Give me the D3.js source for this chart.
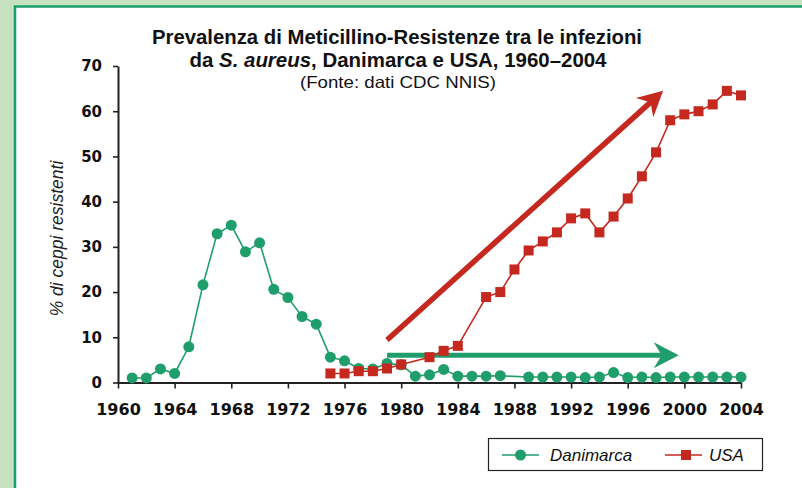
<!DOCTYPE html>
<html>
<head>
<meta charset="utf-8">
<script src="https://cdn.jsdelivr.net/npm/d3@7"></script>
<style>
  body { margin: 0; background: #c5e1c0; }
  svg { display: block; }
</style>
</head>
<body>
<script>
// data
var danYears = [1961, 1962, 1963, 1964, 1965, 1966, 1967, 1968, 1969, 1970,
                1971, 1972, 1973, 1974, 1975, 1976, 1977, 1978, 1979, 1980,
                1981, 1982, 1983, 1984, 1985, 1986, 1987,
                1989, 1990, 1991, 1992, 1993, 1994, 1995, 1996, 1997, 1998,
                1999, 2000, 2001, 2002, 2003, 2004];
var danValues = [1.0, 1.0, 3.0, 2.0, 7.9, 21.6, 32.9, 34.8, 28.9, 30.9,
                 20.6, 18.8, 14.6, 12.9, 5.6, 4.8, 3.1, 3.0, 4.2, 3.9,
                 1.4, 1.7, 2.9, 1.4, 1.4, 1.4, 1.5,
                 1.2, 1.2, 1.2, 1.2, 1.1, 1.2, 2.2, 1.1, 1.2, 1.1,
                 1.2, 1.2, 1.2, 1.2, 1.2, 1.2];
var usaYears = [1975, 1976, 1977, 1978, 1979, 1980, 1982, 1983, 1984,
                1986, 1987, 1988, 1989, 1990, 1991, 1992, 1993, 1994, 1995,
                1996, 1997, 1998, 1999, 2000, 2001, 2002, 2003, 2004];
var usaValues = [2.0, 2.0, 2.5, 2.5, 3.1, 4.0, 5.6, 7.0, 8.1,
                 18.9, 20.0, 25.0, 29.2, 31.2, 33.2, 36.3, 37.4, 33.2, 36.7,
                 40.7, 45.6, 50.9, 58.0, 59.3, 60.0, 61.5, 64.5, 63.5];
var xTicks = [1960, 1964, 1968, 1972, 1976, 1980, 1984, 1988, 1992, 1996, 2000, 2004];
var yTicks = [0, 10, 20, 30, 40, 50, 60, 70];
var seriesNames = ["Danimarca", "USA"];
// trend arrows: [year, value] start and end
var redArrow = [[1979.0, 9.4], [1998.5, 64.5]];
var greenArrow = [[1979.0, 6.0], [1999.6, 6.0]];

var green = "#1f9e6c", red = "#c4281f";

var W = 802, H = 488;
var svg = d3.select("body").append("svg")
    .attr("width", W)
    .attr("height", H);

// frame
svg.append("rect").attr("x", 0).attr("y", 0).attr("width", W).attr("height", H).attr("fill", "#c5e1c0");
svg.append("rect").attr("x", 15).attr("y", 6.5).attr("width", W).attr("height", H)
    .attr("fill", "#fff").attr("stroke", "#17a06a").attr("stroke-width", 2.5);

// scales
var x = d3.scaleLinear().domain([1960, 2004]).range([118, 741]);
var y = d3.scaleLinear().domain([0, 70]).range([382.5, 66]);

// title
var title = svg.append("g")
    .attr("font-family", "'Liberation Sans Narrow', 'Liberation Sans', sans-serif")
    .attr("text-anchor", "middle")
    .attr("fill", "#111");
title.append("text")
    .attr("x", 397).attr("y", 44)
    .attr("font-size", 19.5).attr("font-weight", "bold")
    .attr("textLength", 490).attr("lengthAdjust", "spacingAndGlyphs")
    .text("Prevalenza di Meticillino-Resistenze tra le infezioni");
var t2 = title.append("text")
    .attr("x", 398).attr("y", 66.5)
    .attr("font-size", 19.5).attr("font-weight", "bold")
    .attr("textLength", 417).attr("lengthAdjust", "spacingAndGlyphs");
t2.append("tspan").text("da ");
t2.append("tspan").attr("font-style", "italic").text("S. aureus");
t2.append("tspan").text(", Danimarca e USA, 1960\u20132004");
title.append("text")
    .attr("x", 398).attr("y", 87.5)
    .attr("font-size", 16.5)
    .attr("textLength", 196).attr("lengthAdjust", "spacingAndGlyphs")
    .text("(Fonte: dati CDC NNIS)");

// y axis
var yAxis = svg.append("g")
    .attr("transform", "translate(" + x(1960) + ",0)")
    .call(d3.axisLeft(y).tickValues(yTicks).tickSize(5).tickSizeOuter(0).tickPadding(11));
yAxis.selectAll("text")
    .attr("font-family", "'DejaVu Sans', sans-serif")
    .attr("font-weight", "bold").attr("font-size", 15).attr("fill", "#111");

// x axis
var xAxis = svg.append("g")
    .attr("transform", "translate(0," + y(0) + ")")
    .call(d3.axisBottom(x).tickValues(xTicks).tickFormat(d3.format("d"))
          .tickSize(6).tickSizeOuter(0).tickPadding(15.5));
xAxis.selectAll("text")
    .attr("font-family", "'DejaVu Sans', sans-serif")
    .attr("font-weight", "bold").attr("font-size", 16).attr("fill", "#111");

svg.selectAll(".domain").attr("stroke", "#222").attr("stroke-width", 2);
svg.selectAll(".tick line").attr("stroke", "#222").attr("stroke-width", 1.6);

// y axis label
svg.append("text")
    .attr("transform", "translate(63,238.5) rotate(-90)")
    .attr("text-anchor", "middle")
    .attr("font-family", "'Liberation Sans', sans-serif")
    .attr("font-style", "italic")
    .attr("font-size", 17.5)
    .attr("fill", "#222")
    .text("% di ceppi resistenti");

var line = d3.line()
    .x(function(d) { return x(d[0]); })
    .y(function(d) { return y(d[1]); });

var danData = danYears.map(function(d, i) { return [d, danValues[i]]; });
var usaData = usaYears.map(function(d, i) { return [d, usaValues[i]]; });

// Danimarca
svg.append("path")
    .datum(danData)
    .attr("fill", "none").attr("stroke", green).attr("stroke-width", 1.6)
    .attr("d", line);
svg.selectAll(".dan")
    .data(danData)
    .enter().append("circle")
    .attr("class", "dan")
    .attr("cx", function(d) { return x(d[0]); })
    .attr("cy", function(d) { return y(d[1]); })
    .attr("r", 5.5)
    .attr("fill", green);

// arrows
function arrow(pts, color, width) {
  var x0 = x(pts[0][0]), y0 = y(pts[0][1]), x1 = x(pts[1][0]), y1 = y(pts[1][1]);
  var ang = Math.atan2(y1 - y0, x1 - x0) * 180 / Math.PI;
  var len = Math.hypot(x1 - x0, y1 - y0);
  var g = svg.append("g")
      .attr("transform", "translate(" + x0 + "," + y0 + ") rotate(" + ang + ")");
  g.append("line")
      .attr("x1", 0).attr("y1", 0).attr("x2", len - 16).attr("y2", 0)
      .attr("stroke", color).attr("stroke-width", width);
  g.append("path")
      .attr("d", "M" + len + ",0 L" + (len - 25) + "," + (-13) + " L" + (len - 17) + ",0 L" +
            (len - 25) + ",13 Z")
      .attr("fill", color);
}
arrow(redArrow, red, 5.5);
arrow(greenArrow, green, 5);

// USA
svg.append("path")
    .datum(usaData)
    .attr("fill", "none").attr("stroke", red).attr("stroke-width", 1.6)
    .attr("d", line);
svg.selectAll(".usa")
    .data(usaData)
    .enter().append("rect")
    .attr("class", "usa")
    .attr("x", function(d) { return x(d[0]) - 5; })
    .attr("y", function(d) { return y(d[1]) - 5; })
    .attr("width", 10).attr("height", 10)
    .attr("fill", red);

// legend
var legend = svg.append("g");
legend.append("rect")
    .attr("x", 488.5).attr("y", 438.5).attr("width", 274).attr("height", 32)
    .attr("fill", "#fff").attr("stroke", "#222").attr("stroke-width", 1.2);
var items = legend.selectAll(".item")
    .data(seriesNames)
    .enter().append("g")
    .attr("transform", function(d, i) { return "translate(" + (i === 0 ? 502 : 665) + ",455)"; });
items.append("line")
    .attr("x1", 0).attr("x2", 37).attr("y1", 0).attr("y2", 0)
    .attr("stroke", function(d, i) { return i === 0 ? green : red; })
    .attr("stroke-width", 1.6);
items.each(function(d, i) {
  var g = d3.select(this);
  if (i === 0) g.append("circle").attr("cx", 18.5).attr("cy", 0).attr("r", 5.5).attr("fill", green);
  else g.append("rect").attr("x", 16).attr("y", -5).attr("width", 10).attr("height", 10).attr("fill", red);
});
items.append("text")
    .attr("x", function(d, i) { return i === 0 ? 48 : 44; })
    .attr("y", 6)
    .attr("font-family", "'Liberation Sans', sans-serif")
    .attr("font-style", "italic")
    .attr("font-size", 17)
    .attr("fill", "#111")
    .text(function(d) { return d; });
</script>
</body>
</html>
